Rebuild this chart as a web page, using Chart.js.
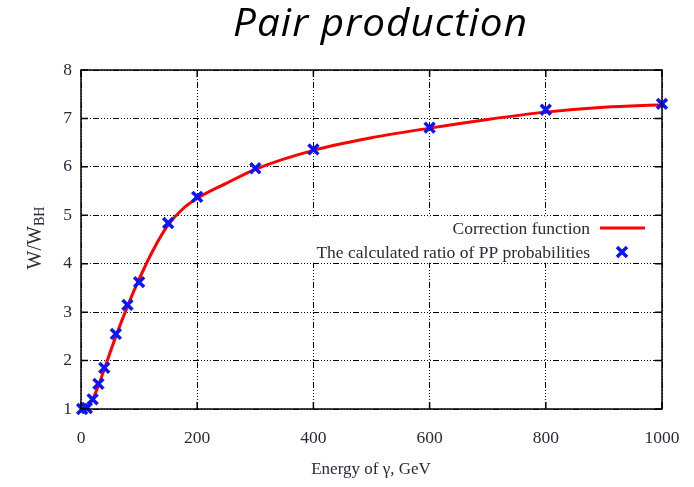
<!DOCTYPE html>
<html>
<head>
<meta charset="utf-8">
<script src="https://cdn.jsdelivr.net/npm/chart.js@4/dist/chart.umd.min.js"></script>
<style>
  html, body { margin: 0; padding: 0; background: #fff; }
  #wrap { width: 694px; height: 487px; }
</style>
</head>
<body>
<div id="wrap"><canvas id="c" width="694" height="487"></canvas></div>
<script>
// Photon energy (GeV) and calculated ratio W/W_BH
const energies = [2, 10, 20, 30, 40, 60, 80, 100, 150, 200, 300, 400, 600, 800, 1000];
const ratios   = [1.0, 1.02, 1.2, 1.52, 1.85, 2.55, 3.15, 3.62, 4.84, 5.38, 5.97, 6.36, 6.81, 7.18, 7.30];

// Correction function sampled along the energy range
const fitEnergies = [0, 10, 20, 30, 40, 60, 80, 100, 125, 150, 175, 200, 250, 300, 400, 500, 600, 700, 800, 900, 1000];
const fitValues   = [1.0, 1.03, 1.2, 1.48, 1.82, 2.5, 3.12, 3.68, 4.3, 4.8, 5.13, 5.35, 5.66, 5.95, 6.34, 6.6, 6.8, 6.98, 7.13, 7.23, 7.28];

const xTicks = [0, 200, 400, 600, 800, 1000];
const yTicks = [1, 2, 3, 4, 5, 6, 7, 8];

const titleText = 'Pair production';
const xAxisTitle = 'Energy of \u03b3, GeV';
const fitLabel = 'Correction function';
const pointLabel = 'The calculated ratio of PP probabilities';

const serif = '"Liberation Serif", "DejaVu Serif", serif';
const textColor = '#2a2a3a';
const labelSize = 17.5;

// Legend area inside the plot (in data units) where the grid is blanked
const legendBox = { x0: 268, x1: 1000, y0: 4, y1: 5 };

const framePlugin = {
  id: 'frame',
  beforeDatasetsDraw(chart) {
    const { ctx } = chart;
    const xs = chart.scales.x, ys = chart.scales.y;
    // white legend panel over the grid
    const l = xs.getPixelForValue(legendBox.x0), r = xs.getPixelForValue(legendBox.x1);
    const t = ys.getPixelForValue(legendBox.y1), b = ys.getPixelForValue(legendBox.y0);
    ctx.save();
    ctx.fillStyle = '#fff';
    ctx.fillRect(l, t + 1, r - l, b - t - 2);
    ctx.restore();
  },
  afterDatasetsDraw(chart) {
    const { ctx, chartArea: a } = chart;
    const xs = chart.scales.x, ys = chart.scales.y;
    ctx.save();
    ctx.strokeStyle = '#000';
    ctx.lineWidth = 1.5;
    ctx.strokeRect(a.left, a.top, a.right - a.left, a.bottom - a.top);
    // inward major ticks on all four sides
    const tl = 7;
    ctx.beginPath();
    xTicks.forEach(v => {
      const x = xs.getPixelForValue(v);
      ctx.moveTo(x, a.bottom); ctx.lineTo(x, a.bottom - tl);
      ctx.moveTo(x, a.top); ctx.lineTo(x, a.top + tl);
    });
    yTicks.forEach(v => {
      const y = ys.getPixelForValue(v);
      ctx.moveTo(a.left, y); ctx.lineTo(a.left + tl, y);
      ctx.moveTo(a.right, y); ctx.lineTo(a.right - tl, y);
    });
    ctx.stroke();
    ctx.restore();
  },
  afterDraw(chart) {
    const { ctx } = chart;
    ctx.save();
    // title, widened slightly to its full width
    ctx.fillStyle = '#000';
    ctx.font = 'italic 38px "Open Sans", "Liberation Sans", sans-serif';
    if ('letterSpacing' in ctx) ctx.letterSpacing = '1px';
    const w = ctx.measureText(titleText).width;
    const targetW = 295;
    const sx = targetW / w;
    ctx.save();
    ctx.translate(380.5, 36);
    ctx.scale(sx, 1);
    ctx.textAlign = 'center';
    ctx.textBaseline = 'alphabetic';
    ctx.fillText(titleText, 0, 0);
    ctx.restore();
    if ('letterSpacing' in ctx) ctx.letterSpacing = '0px';

    // x axis title
    ctx.fillStyle = textColor;
    ctx.font = '17px ' + serif;
    ctx.textAlign = 'center';
    ctx.textBaseline = 'middle';
    ctx.fillText(xAxisTitle, 371, 470);

    // y axis title with subscript
    ctx.translate(35, 238);
    ctx.rotate(-Math.PI / 2);
    const main = 'W/W';
    const sub = 'BH';
    ctx.font = '20px ' + serif;
    const mw = ctx.measureText(main).width;
    ctx.font = '14px ' + serif;
    const sw = ctx.measureText(sub).width;
    const start = -(mw + sw) / 2;
    ctx.textAlign = 'left';
    ctx.textBaseline = 'alphabetic';
    ctx.font = '20px ' + serif;
    ctx.fillText(main, start, 6);
    ctx.font = '14px ' + serif;
    ctx.fillText(sub, start + mw, 9);
    ctx.setTransform(1, 0, 0, 1, 0, 0);

    // legend inside the plot
    const textRight = 590;
    const y1 = 229, y2 = 253;
    ctx.font = labelSize + 'px ' + serif;
    ctx.fillStyle = textColor;
    ctx.textAlign = 'right';
    ctx.textBaseline = 'middle';
    ctx.fillText(fitLabel, textRight, y1);
    ctx.fillText(pointLabel, textRight, y2);
    const ds0 = chart.data.datasets[0], ds1 = chart.data.datasets[1];
    ctx.strokeStyle = ds0.borderColor;
    ctx.lineWidth = ds0.borderWidth;
    ctx.beginPath();
    ctx.moveTo(600, y1 - 1); ctx.lineTo(645, y1 - 1);
    ctx.stroke();
    ctx.strokeStyle = ds1.borderColor;
    ctx.lineWidth = ds1.borderWidth;
    const cx = 622, cy = y2 - 1, s = 5;
    ctx.beginPath();
    ctx.moveTo(cx - s, cy - s); ctx.lineTo(cx + s, cy + s);
    ctx.moveTo(cx - s, cy + s); ctx.lineTo(cx + s, cy - s);
    ctx.stroke();
    ctx.restore();
  }
};

const gridDash = [1, 2, 1, 2, 1, 2, 1, 2, 6, 2];

new Chart(document.getElementById('c'), {
  type: 'scatter',
  data: {
    datasets: [
      {
        label: fitLabel,
        type: 'line',
        data: fitEnergies.map((e, i) => ({ x: e, y: fitValues[i] })),
        borderColor: '#ff0000',
        borderWidth: 3,
        pointRadius: 0,
        cubicInterpolationMode: 'monotone',
        fill: false,
        order: 2
      },
      {
        label: pointLabel,
        data: energies.map((e, i) => ({ x: e, y: ratios[i] })),
        pointStyle: 'crossRot',
        pointRadius: 7,
        borderColor: '#0a14ff',
        backgroundColor: '#0a14ff',
        borderWidth: 3.5,
        clip: false,
        order: 1
      }
    ]
  },
  options: {
    responsive: false,
    animation: false,
    devicePixelRatio: 1,
    layout: { padding: { left: 0, right: 32, top: 70, bottom: 0 } },
    plugins: {
      legend: { display: false },
      title: { display: false },
      tooltip: { enabled: false }
    },
    scales: {
      x: {
        type: 'linear',
        min: 0, max: 1000,
        afterBuildTicks: s => { s.ticks = xTicks.map(v => ({ value: v })); },
        afterFit: s => { s.height = 487 - 409; s.paddingLeft = 0; s.paddingRight = 0; },
        ticks: {
          color: textColor, font: { family: serif, size: labelSize }, padding: 19, maxRotation: 0,
          callback: v => String(v)
        },
        grid: { color: '#000', lineWidth: 1, drawTicks: false },
        border: { display: false, dash: gridDash }
      },
      y: {
        type: 'linear',
        min: 1, max: 8,
        afterBuildTicks: s => { s.ticks = yTicks.map(v => ({ value: v })); },
        afterFit: s => { s.width = 81; s.paddingTop = 0; s.paddingBottom = 0; },
        ticks: { color: textColor, font: { family: serif, size: labelSize }, padding: 9 },
        grid: { color: '#000', lineWidth: 1, drawTicks: false },
        border: { display: false, dash: gridDash }
      }
    }
  },
  plugins: [framePlugin]
});
</script>
</body>
</html>
